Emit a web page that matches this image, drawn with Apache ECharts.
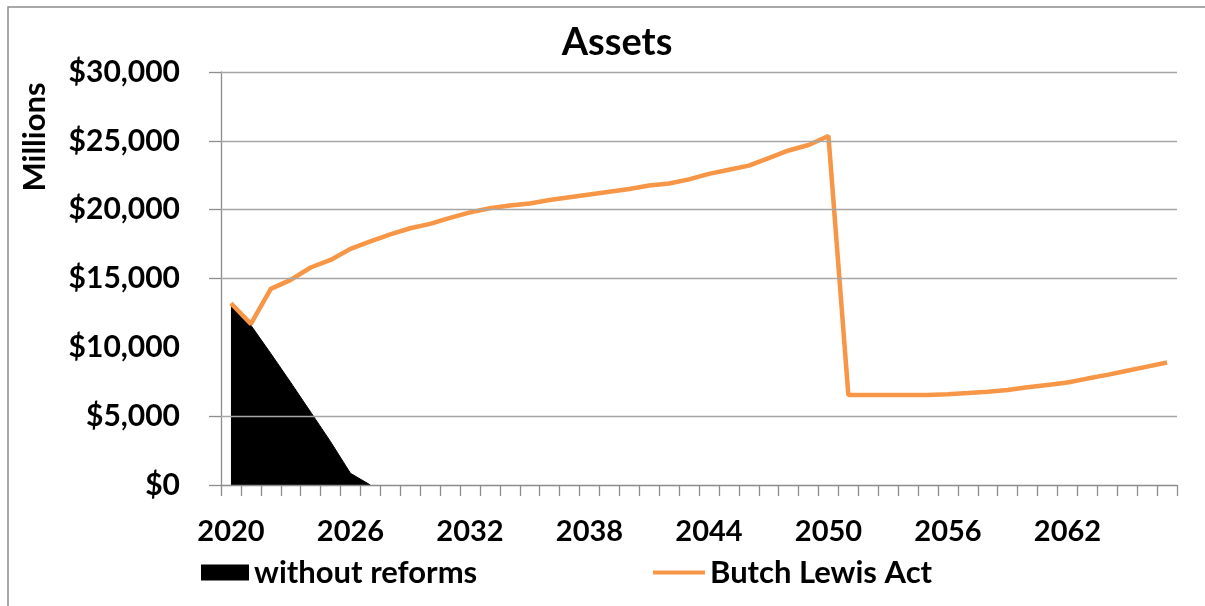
<!DOCTYPE html>
<html>
<head>
<meta charset="utf-8">
<script src="https://cdn.jsdelivr.net/npm/echarts@6/dist/echarts.min.js"></script>
<style>
html,body{margin:0;padding:0;background:#fff;}
#chart{width:1205px;height:606px;}
</style>
</head>
<body>
<div id="chart"></div>
<script>
// Categories: years 2020..2067
const years = ['2020','2021','2022','2023','2024','2025','2026','2027','2028','2029',
  '2030','2031','2032','2033','2034','2035','2036','2037','2038','2039',
  '2040','2041','2042','2043','2044','2045','2046','2047','2048','2049',
  '2050','2051','2052','2053','2054','2055','2056','2057','2058','2059',
  '2060','2061','2062','2063','2064','2065','2066','2067'];

// Assets without reforms ($ millions)
const withoutReforms = [13050, 11600, 9550, 7450, 5300, 3150, 850, 0];

// Assets under Butch Lewis Act ($ millions)
const butchLewis = [13200, 11700, 14250, 14900, 15800, 16350, 17150, 17700, 18200, 18650,
  18970, 19400, 19800, 20100, 20300, 20450, 20700, 20900, 21100, 21300,
  21500, 21750, 21900, 22200, 22600, 22900, 23200, 23750, 24300, 24700,
  25350, 6540, 6540, 6540, 6540, 6540, 6600, 6680, 6780, 6900,
  7100, 7270, 7440, 7730, 8000, 8300, 8600, 8900];

// Y tick marks / gridlines drawn (the $10,000 gridline/tick is absent in the source)
const yTicks = [0, 5000, 15000, 20000, 25000, 30000];
const gridValues = [5000, 15000, 20000, 25000, 30000];

const FONT = 'Lato';
const GRID = '#a6a6a6';
const AXIS = '#8c8c8c';
const chart = echarts.init(document.getElementById('chart'), null, {renderer: 'canvas'});

const fmt = v => '$' + v.toLocaleString('en-US');

chart.setOption({
  backgroundColor: '#ffffff',
  animation: false,
  grid: {left: 221, right: 28, top: 72, bottom: 121, containLabel: false},
  graphic: [
    {type: 'rect', shape: {x: 8, y: 7, width: 1205, height: 610},
     style: {fill: 'none', stroke: AXIS, lineWidth: 1.5}, silent: true},
    {type: 'text', x: 617, y: 43,
     style: {text: 'Assets', font: 'bold 38px ' + FONT, fill: '#000',
             textAlign: 'center', textVerticalAlign: 'middle'}},
    {type: 'text', x: 35, y: 137, rotation: Math.PI / 2,
     style: {text: 'Millions', font: 'bold 31px ' + FONT, fill: '#000',
             textAlign: 'center', textVerticalAlign: 'middle'}}
  ],
  legend: [
    {left: 201, top: 557, itemWidth: 48, itemHeight: 16, padding: 0,
     data: [{name: 'without reforms', icon: 'rect'}],
     textStyle: {fontFamily: FONT, fontWeight: 'bold', fontSize: 31, color: '#000'}},
    {left: 653, top: 557, itemWidth: 52, itemHeight: 4, padding: 0,
     data: [{name: 'Butch Lewis Act', icon: 'rect'}],
     textStyle: {fontFamily: FONT, fontWeight: 'bold', fontSize: 31, color: '#000'}}
  ],
  xAxis: {
    type: 'category',
    data: years,
    boundaryGap: true,
    axisLine: {show: true, lineStyle: {color: AXIS, width: 1.3}},
    axisTick: {show: true, interval: 0, length: 11, lineStyle: {color: AXIS, width: 1.3}},
    axisLabel: {interval: 5, margin: 32, fontFamily: FONT, fontWeight: 'bold', fontSize: 29, color: '#000'},
    splitLine: {show: false},
    z: 4
  },
  yAxis: {
    type: 'value',
    min: 0, max: 30000, interval: 5000,
    axisLine: {show: true, lineStyle: {color: AXIS, width: 1.3}},
    axisTick: {show: true, length: 12, customValues: yTicks, lineStyle: {color: AXIS, width: 1.3}},
    axisLabel: {margin: 41, formatter: fmt, fontFamily: FONT, fontWeight: 'bold', fontSize: 30, color: '#000'},
    splitLine: {show: false}
  },
  series: [
    {
      name: 'gridlines',
      type: 'line',
      data: [],
      silent: true,
      z: 1,
      markLine: {
        silent: true,
        symbol: ['none', 'none'],
        label: {show: false},
        lineStyle: {color: GRID, width: 1.3, type: 'solid'},
        emphasis: {disabled: true},
        data: gridValues.map(v => ({yAxis: v}))
      }
    },
    {
      name: 'without reforms',
      type: 'line',
      data: withoutReforms,
      symbol: 'none',
      lineStyle: {color: '#000', width: 1},
      itemStyle: {color: '#000'},
      areaStyle: {color: '#000', opacity: 1},
      z: 2
    },
    {
      name: 'Butch Lewis Act',
      type: 'line',
      data: butchLewis,
      symbol: 'none',
      lineStyle: {color: '#f79646', width: 4.5},
      itemStyle: {color: '#f79646'},
      z: 3
    }
  ]
});
</script>
</body>
</html>
